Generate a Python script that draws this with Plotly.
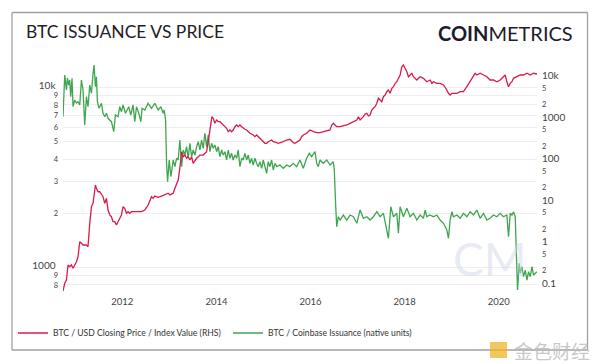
import datetime as dt
import plotly.graph_objects as go

# ---------------- data (decimal years, values) ----------------
issuance_years = [
    2010.740, 2010.777, 2010.813, 2010.834, 2010.862, 2010.883, 2010.904, 2010.932, 2010.953, 2010.989,
    2011.026, 2011.060, 2011.096, 2011.132, 2011.166, 2011.202, 2011.238, 2011.272, 2011.309, 2011.345,
    2011.379, 2011.400, 2011.430, 2011.451, 2011.472, 2011.506, 2011.557, 2011.591, 2011.628, 2011.664,
    2011.698, 2011.770, 2011.819, 2011.855, 2011.911, 2011.947, 2011.983, 2012.017, 2012.068, 2012.111,
    2012.138, 2012.181, 2012.230, 2012.266, 2012.302, 2012.351, 2012.394, 2012.421, 2012.479, 2012.549,
    2012.621, 2012.691, 2012.762, 2012.819, 2012.868, 2012.889, 2012.919, 2012.940, 2012.962, 2012.996,
    2013.032, 2013.081, 2013.117, 2013.153, 2013.187, 2013.223, 2013.260, 2013.294, 2013.330, 2013.366,
    2013.400, 2013.436, 2013.472, 2013.506, 2013.543, 2013.579, 2013.613, 2013.649, 2013.685, 2013.719,
    2013.755, 2013.791, 2013.826, 2013.862, 2013.898, 2013.932, 2013.968, 2014.004, 2014.038, 2014.074,
    2014.111, 2014.145, 2014.181, 2014.217, 2014.251, 2014.287, 2014.323, 2014.357, 2014.394, 2014.430,
    2014.464, 2014.500, 2014.536, 2014.570, 2014.606, 2014.643, 2014.677, 2014.713, 2014.749, 2014.783,
    2014.819, 2014.855, 2014.889, 2014.926, 2014.962, 2014.996, 2015.032, 2015.068, 2015.102, 2015.138,
    2015.174, 2015.209, 2015.245, 2015.281, 2015.351, 2015.421, 2015.494, 2015.564, 2015.634, 2015.706,
    2015.777, 2015.847, 2015.919, 2015.974, 2016.026, 2016.096, 2016.132, 2016.166, 2016.202, 2016.272,
    2016.345, 2016.415, 2016.485, 2016.506, 2016.536, 2016.557, 2016.591, 2016.628, 2016.698, 2016.770,
    2016.840, 2016.911, 2016.983, 2017.053, 2017.123, 2017.196, 2017.266, 2017.336, 2017.409, 2017.479,
    2017.549, 2017.606, 2017.655, 2017.706, 2017.762, 2017.834, 2017.868, 2017.904, 2017.974, 2018.047,
    2018.117, 2018.187, 2018.260, 2018.330, 2018.400, 2018.436, 2018.472, 2018.532, 2018.613, 2018.685,
    2018.755, 2018.826, 2018.898, 2018.932, 2018.968, 2019.004, 2019.038, 2019.111, 2019.181, 2019.251,
    2019.323, 2019.394, 2019.464, 2019.536, 2019.570, 2019.606, 2019.677, 2019.749, 2019.819, 2019.889,
    2019.962, 2020.032, 2020.102, 2020.174, 2020.209, 2020.245, 2020.281, 2020.315, 2020.351, 2020.387,
    2020.400, 2020.436, 2020.457, 2020.494, 2020.528, 2020.564, 2020.600, 2020.634, 2020.670, 2020.706,
    2020.740, 2020.777, 2020.813,
]
issuance_values = [
    6880, 11735, 9685, 11290, 10325, 11010, 8890, 11250, 7823, 8520,
    8200, 8340, 7995, 11010, 9685, 6190, 8890, 7823, 10325, 9285,
    11990, 13335, 10100, 11480, 8340, 7665, 8170, 7190, 6883, 7190,
    6743, 6457, 5680, 7035, 6883, 7823, 7337, 7995, 7190, 7665,
    7823, 7035, 7995, 6457, 7823, 7190, 6457, 7665, 7499, 8170,
    7665, 8170, 7499, 7823, 7190, 7499, 6600, 3792, 2997, 3956,
    3195, 3956, 3631, 4044, 3956, 5109, 3631, 4497, 4217, 4690,
    4044, 4898, 4126, 4497, 4217, 4690, 5000, 4497, 5109, 4594,
    5567, 4690, 5446, 4400, 4898, 4594, 4793, 4400, 4690, 4126,
    4497, 4217, 4400, 3956, 4497, 4044, 4310, 3956, 4217, 4044,
    4497, 3631, 4044, 3956, 4310, 3956, 4217, 3792, 4044, 3710,
    4044, 3792, 3631, 3871, 3557, 3956, 3631, 3337, 3871, 3631,
    3956, 3481, 3792, 3631, 3710, 3557, 3710, 3631, 3792, 3631,
    3956, 3557, 4044, 4310, 4126, 4400, 3792, 3631, 3956, 3792,
    3956, 3710, 3871, 3481, 2177, 1686, 1915, 1836, 1957, 1836,
    1957, 1915, 1760, 2086, 1876, 1915, 1836, 1915, 2042, 1915,
    2000, 1722, 1453, 2177, 1915, 2000, 1549, 2177, 1915, 2132,
    1915, 2000, 1836, 1957, 1876, 2086, 1915, 1957, 1915, 1957,
    1836, 1760, 1616, 1453, 1836, 2042, 1915, 1957, 1876, 2000,
    1915, 2042, 1957, 2086, 2000, 1876, 2000, 1836, 1876, 1957,
    1915, 2000, 1915, 1957, 1483, 2000, 1957, 2042, 1915, 1101,
    750, 1055, 929, 1010, 889, 968, 852, 948, 889, 1010,
    908, 929, 948,
]

price_years = [
    2010.740, 2010.777, 2010.813, 2010.847, 2010.883, 2010.919, 2010.953, 2010.989, 2011.026, 2011.060,
    2011.096, 2011.132, 2011.166, 2011.238, 2011.272, 2011.309, 2011.345, 2011.379, 2011.400, 2011.430,
    2011.451, 2011.485, 2011.521, 2011.557, 2011.591, 2011.628, 2011.664, 2011.698, 2011.734, 2011.770,
    2011.804, 2011.840, 2011.877, 2011.911, 2011.947, 2011.983, 2012.017, 2012.053, 2012.089, 2012.123,
    2012.160, 2012.196, 2012.266, 2012.336, 2012.409, 2012.479, 2012.515, 2012.549, 2012.621, 2012.655,
    2012.691, 2012.762, 2012.834, 2012.904, 2012.974, 2013.011, 2013.081, 2013.117, 2013.187, 2013.223,
    2013.260, 2013.294, 2013.330, 2013.366, 2013.400, 2013.436, 2013.472, 2013.506, 2013.543, 2013.579,
    2013.613, 2013.649, 2013.719, 2013.755, 2013.791, 2013.826, 2013.847, 2013.877, 2013.904, 2013.932,
    2013.968, 2014.004, 2014.038, 2014.074, 2014.111, 2014.145, 2014.181, 2014.217, 2014.251, 2014.287,
    2014.323, 2014.357, 2014.394, 2014.430, 2014.464, 2014.500, 2014.536, 2014.570, 2014.606, 2014.643,
    2014.677, 2014.713, 2014.783, 2014.819, 2014.855, 2014.889, 2014.926, 2014.962, 2014.996, 2015.032,
    2015.068, 2015.102, 2015.174, 2015.209, 2015.281, 2015.315, 2015.421, 2015.494, 2015.564, 2015.600,
    2015.634, 2015.670, 2015.740, 2015.777, 2015.813, 2015.847, 2015.919, 2015.953, 2015.989, 2016.060,
    2016.132, 2016.202, 2016.272, 2016.345, 2016.415, 2016.451, 2016.485, 2016.521, 2016.557, 2016.628,
    2016.698, 2016.770, 2016.840, 2016.911, 2016.983, 2017.017, 2017.053, 2017.123, 2017.160, 2017.196,
    2017.230, 2017.266, 2017.302, 2017.336, 2017.372, 2017.409, 2017.443, 2017.479, 2017.515, 2017.549,
    2017.585, 2017.621, 2017.655, 2017.691, 2017.728, 2017.762, 2017.798, 2017.834, 2017.868, 2017.904,
    2017.940, 2017.974, 2018.011, 2018.047, 2018.081, 2018.117, 2018.153, 2018.187, 2018.223, 2018.260,
    2018.294, 2018.330, 2018.400, 2018.472, 2018.543, 2018.579, 2018.613, 2018.685, 2018.755, 2018.826,
    2018.898, 2018.932, 2018.968, 2019.004, 2019.038, 2019.111, 2019.181, 2019.251, 2019.323, 2019.394,
    2019.464, 2019.500, 2019.536, 2019.606, 2019.677, 2019.749, 2019.819, 2019.889, 2019.962, 2020.032,
    2020.102, 2020.138, 2020.174, 2020.209, 2020.245, 2020.281, 2020.315, 2020.387, 2020.457, 2020.528,
    2020.600, 2020.670, 2020.740, 2020.813,
]
price_values = [
    0.0641, 0.0983, 0.118, 0.272, 0.247, 0.272, 0.226, 0.272, 0.326, 0.431,
    0.991, 0.907, 0.825, 0.825, 0.751, 2.75, 6.92, 8.36, 12.1, 23.1,
    19.2, 15.9, 15.9, 13.3, 12.1, 8.36, 11.0, 5.77, 4.37, 3.97,
    3.01, 3.01, 2.51, 3.01, 3.64, 4.37, 6.92, 6.33, 4.80, 5.25,
    4.80, 5.25, 5.25, 5.25, 5.25, 5.77, 6.92, 7.61, 12.1, 11.0,
    12.5, 11.7, 12.5, 13.3, 14.6, 13.3, 14.6, 19.2, 30.5, 59.4,
    146.9, 111, 122, 102, 111, 92.6, 111, 77.1, 92.6, 102,
    111, 122, 122, 134.4, 146.9, 256, 408, 589, 1026, 939,
    711, 854, 777, 777, 711, 647, 589, 538, 446, 490,
    446, 490, 589, 647, 589, 647, 589, 538, 510, 490,
    446, 408, 371, 338, 371, 338, 309, 281, 256, 234,
    234, 256, 281, 256, 242, 234, 256, 281, 292, 256,
    242, 234, 256, 281, 338, 371, 408, 446, 490, 446,
    422, 422, 446, 471, 490, 647, 711, 647, 589, 589,
    612, 647, 711, 777, 854, 1026, 854, 1026, 1191, 1239,
    1067, 1127, 1488, 1636, 1787, 2159, 2851, 2592, 2360, 3115,
    3423, 4111, 4519, 3763, 4966, 5428, 6558, 7164, 8655, 10400,
    16490, 18120, 15090, 12490, 9460, 10400, 11430, 9460, 8655, 7875,
    8655, 9460, 8655, 7164, 7875, 6558, 7164, 6558, 6558, 5968,
    4519, 3763, 3423, 3763, 3763, 3763, 4111, 4111, 5428, 7164,
    9460, 11430, 10400, 11430, 10400, 9460, 7875, 7875, 7164, 7875,
    9460, 10400, 7164, 5428, 6558, 7164, 8655, 9460, 10400, 10400,
    11430, 10400, 11430, 10990,
]

title_text = "BTC ISSUANCE VS PRICE"
price_name = "BTC / USD Closing Price / Index Value (RHS)"
issuance_name = "BTC / Coinbase Issuance (native units)"


def to_date(y):
    yr = int(y)
    start = dt.datetime(yr, 1, 1)
    end = dt.datetime(yr + 1, 1, 1)
    return start + (end - start) * (y - yr)


issuance_dates = [to_date(y) for y in issuance_years]
price_dates = [to_date(y) for y in price_years]

RED = "#d81b4b"
GREEN = "#3ea64f"
FONT = "Lato, 'Open Sans', sans-serif"

fig = go.Figure()
fig.add_trace(go.Scatter(x=price_dates, y=price_values, name=price_name, mode="lines",
                         line=dict(color=RED, width=1.3), yaxis="y2"))
fig.add_trace(go.Scatter(x=issuance_dates, y=issuance_values, name=issuance_name, mode="lines",
                         line=dict(color=GREEN, width=1.3), yaxis="y"))

# plot area: x 63..537, y 64..294 (px)
L, R, T, B = 63, 63, 64, 69
PW, PH = 600 - L - R, 363 - T - B


def px_x(p):
    return (p - L) / PW


def px_y(p):
    return (363 - B - p) / PH


fig.update_layout(
    width=600, height=363,
    margin=dict(l=L, r=R, t=T, b=B, autoexpand=False),
    paper_bgcolor="white", plot_bgcolor="white",
    font=dict(family=FONT, color="#444", size=9),
    showlegend=True,
    legend=dict(orientation="h", x=px_x(13), y=px_y(333), xanchor="left", yanchor="middle",
                entrywidth=170, entrywidthmode="pixels",
                font=dict(size=8.6, color="#333"), bgcolor="rgba(0,0,0,0)"),
    xaxis=dict(type="date", range=[issuance_dates[0], issuance_dates[-1]],
               tick0="2012-01-01", dtick="M24", tickformat="%Y",
               showgrid=False, zeroline=False, showline=False, ticks="",
               tickfont=dict(size=9.5, color="#444")),
    yaxis=dict(type="log", range=[2.8528, 4.1306], dtick="D1",
               showgrid=True, gridcolor="#eeeeee", gridwidth=1,
               zeroline=False, showline=False, ticks="", ticklabelstandoff=4,
               tickfont=dict(size=10, color="#444")),
    yaxis2=dict(type="log", range=[-1.2653, 4.2822], dtick="D2", overlaying="y", side="right",
                showgrid=False, zeroline=False, showline=False, ticks="", ticklabelstandoff=4,
                tickfont=dict(size=10, color="#444")),
)

# frame (four edges)
FX0, FX1, FY0, FY1 = px_x(12), px_x(587.5), px_y(350), px_y(12.5)
for (a, b, c, d) in [(FX0, FY1, FX1, FY1), (FX0, FY0, FX1, FY0), (FX0, FY0, FX0, FY1), (FX1, FY0, FX1, FY1)]:
    fig.add_shape(type="line", xref="paper", yref="paper", x0=a, y0=b, x1=c, y1=d,
                  line=dict(color="#a0a0a0", width=1.3), layer="above")

# title and brand
fig.add_annotation(text=title_text, xref="paper", yref="paper", x=px_x(24), y=px_y(32),
                   xanchor="left", yanchor="middle", showarrow=False,
                   font=dict(family=FONT, size=17.5, color="#1e1e28"))
fig.add_annotation(text="<b>COIN</b>METRICS", xref="paper", yref="paper", x=px_x(575), y=px_y(33),
                   xanchor="right", yanchor="middle", showarrow=False,
                   font=dict(family=FONT, size=20, color="#1c1c2c"))

# watermarks
fig.add_annotation(text="CM", xref="paper", yref="paper", x=px_x(489), y=px_y(258),
                   xanchor="center", yanchor="middle", showarrow=False,
                   font=dict(family=FONT, size=46, color="rgba(210,215,232,0.5)"))
fig.add_shape(type="rect", xref="paper", yref="paper",
              x0=px_x(490), x1=px_x(507), y0=px_y(358), y1=px_y(342),
              line=dict(width=0), fillcolor="rgba(240,180,40,0.75)")
fig.add_annotation(text="金色财经", xref="paper", yref="paper", x=px_x(512), y=px_y(350),
                   xanchor="left", yanchor="middle", showarrow=False,
                   font=dict(family="Noto Sans CJK SC", size=19, color="rgba(190,190,190,0.85)"))

fig.write_html("out.html", config={"displayModeBar": False},
               post_script="document.body.style.margin='0';")
